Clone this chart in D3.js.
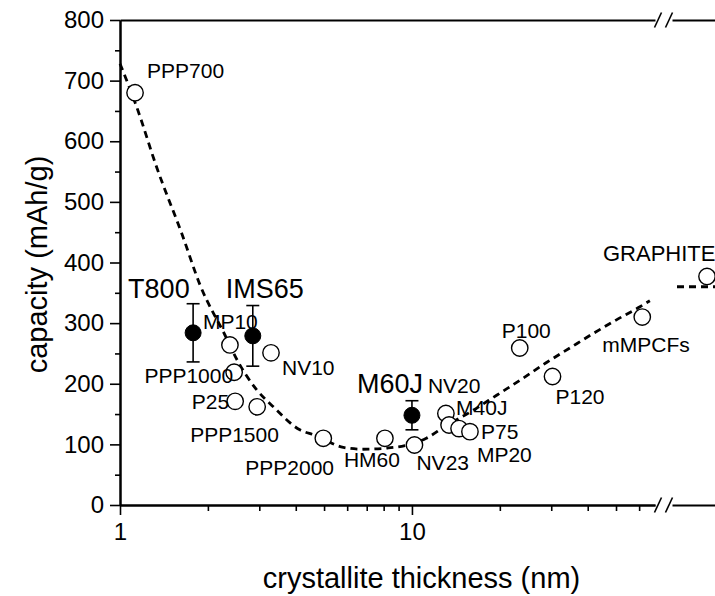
<!DOCTYPE html>
<html>
<head>
<meta charset="utf-8">
<script src="https://cdn.jsdelivr.net/npm/d3@7"></script>
<style>
  html, body { margin: 0; padding: 0; background: #fff; }
  svg { display: block; }
  text { font-family: "Liberation Sans", Arial, sans-serif; fill: #000; }
</style>
</head>
<body>
<script>
// ---------------- DATA ----------------
const sampleNames    = ["PPP700","MP10","NV10","PPP1000","P25","PPP1500","PPP2000","HM60","NV23","NV20","M40J","P75","MP20","P100","P120","mMPCFs"];
const sampleThickness = [1.126, 2.38, 3.29, 2.46, 2.48, 2.95, 4.97, 8.08, 10.2, 13.07, 13.4, 14.5, 15.8, 23.4, 30.3, 61.5];
const sampleCapacity  = [680, 264, 251, 219, 171, 162, 110, 110, 99, 151, 132, 126, 121, 259, 212, 310];

const fiberNames     = ["T800","IMS65","M60J"];
const fiberThickness = [1.78, 2.85, 10.0];
const fiberCapacity  = [284, 279, 148];
const fiberError     = [48, 50, 24];

const graphiteName     = "GRAPHITE";
const graphiteCapacity = 377;
const graphiteTrend    = 360;

const trendThickness = [1.0, 1.14, 1.34, 1.63, 1.88, 2.29, 2.54, 2.94, 3.35, 4.13, 4.66, 5.82, 6.8, 8.25, 9.46, 11.2, 13.0, 15.8, 19.5, 24, 28.9, 35, 41.8, 50, 60.4, 65.3];
const trendCapacity  = [728, 657, 555, 447, 363, 280, 236, 190, 162, 124, 115, 95, 92, 94, 98, 110, 130, 153, 181, 209, 235, 260, 283, 305, 327, 337];

const yMajorTicks = [0, 100, 200, 300, 400, 500, 600, 700, 800];
const yMinorTicks = [50, 150, 250, 350, 450, 550, 650, 750];
const xMajorTicks = [1, 10];
const xMinorTicks = [2, 3, 4, 5, 6, 7, 8, 9, 20, 30, 40, 50, 60];

const xTitle = "crystallite thickness (nm)";
const yTitle = "capacity (mAh/g)";

// ---------------- LAYOUT (label placement relative to points) ----------------
const sampleLabelLayout = {
  "PPP700": [12, -15, "start"], "MP10": [-27, -16, "start"], "NV10": [11, 22, "start"],
  "PPP1000": [-1, 11, "end"], "P25": [-6, 8, "end"], "PPP1500": [-67, 35, "start"],
  "PPP2000": [-78, 37, "start"], "HM60": [-41, 29, "start"], "NV23": [2, 25, "start"],
  "NV20": [-18, -20, "start"], "M40J": [7, -10, "start"], "P75": [22, 10, "start"],
  "MP20": [7, 30, "start"], "P100": [-18, -10, "start"], "P120": [3, 28, "start"],
  "mMPCFs": [-40, 35, "start"]
};
const fiberLabelLayout = { "T800": [-65, -35], "IMS65": [-27, -38], "M60J": [-55, -22] };

// ---------------- CHART ----------------
const W = 715, H = 596;
const svg = d3.select("body").append("svg").attr("width", W).attr("height", H);

const x  = d3.scaleLog().domain([1, 68]).range([120, 655]);
const xb = d3.scaleBand().domain([graphiteName]).range([672, 742]);
const y  = d3.scaleLinear().domain([0, 800]).range([505, 20]);

const axisStroke = 2;

function styleAxis(g) {
  g.select(".domain").attr("stroke", "#000").attr("stroke-width", axisStroke);
  g.selectAll(".tick line").attr("stroke", "#000").attr("stroke-width", 1.6);
  g.selectAll(".tick text").style("font-size", "24px").attr("fill", "#000");
}

// Left axis
svg.append("g").attr("transform", `translate(${x.range()[0]},0)`)
  .call(d3.axisLeft(y).tickValues(yMinorTicks).tickSize(5).tickSizeOuter(0).tickFormat(""))
  .call(styleAxis);
svg.append("g").attr("transform", `translate(${x.range()[0]},0)`)
  .call(d3.axisLeft(y).tickValues(yMajorTicks).tickSize(10).tickSizeOuter(0).tickPadding(6))
  .call(styleAxis);

// Bottom axis (main + after-break segment)
svg.append("g").attr("transform", `translate(0,${y(0)})`)
  .call(d3.axisBottom(x).tickValues(xMinorTicks).tickSize(6).tickSizeOuter(0).tickFormat(""))
  .call(styleAxis);
svg.append("g").attr("transform", `translate(0,${y(0)})`)
  .call(d3.axisBottom(x).tickValues(xMajorTicks).tickSize(10).tickSizeOuter(0).tickPadding(8).tickFormat(d3.format("d")))
  .call(styleAxis);
svg.append("g").attr("transform", `translate(0,${y(0)})`)
  .call(d3.axisBottom(xb).tickValues([]).tickSizeOuter(0))
  .call(styleAxis);

// Top axis
svg.append("g").attr("transform", `translate(0,${y(800)})`)
  .call(d3.axisTop(x).tickValues([]).tickSizeOuter(0))
  .call(styleAxis);
svg.append("g").attr("transform", `translate(0,${y(800)})`)
  .call(d3.axisTop(xb).tickValues([]).tickSizeOuter(0))
  .call(styleAxis);

// Break marks
const breakXs = [x.range()[1] + 3, xb.range()[0] - 3];
[y(0), y(800)].forEach(yy => {
  breakXs.forEach(bx => {
    svg.append("line")
      .attr("x1", bx - 3.5).attr("y1", yy + 7.5)
      .attr("x2", bx + 3.5).attr("y2", yy - 7.5)
      .attr("stroke", "#000").attr("stroke-width", 1.6);
  });
});

// Axis titles
svg.append("text")
  .attr("x", (x.range()[0] + 723) / 2).attr("y", 588)
  .attr("text-anchor", "middle").style("font-size", "29px")
  .text(xTitle);
svg.append("text")
  .attr("transform", `translate(47,${(y(800) + y(0)) / 2 + 2}) rotate(-90)`)
  .attr("text-anchor", "middle").style("font-size", "29px")
  .text(yTitle);

// Trend curve (dashed)
const trend = trendThickness.map((t, i) => [t, trendCapacity[i]]);
svg.append("path")
  .datum(trend)
  .attr("fill", "none").attr("stroke", "#000").attr("stroke-width", 2.8)
  .attr("stroke-dasharray", "7,5")
  .attr("d", d3.line().x(d => x(d[0])).y(d => y(d[1])).curve(d3.curveMonotoneX));

// Trend continuation after the break
svg.append("line")
  .attr("x1", xb.range()[0] + 5).attr("x2", xb.range()[1])
  .attr("y1", y(graphiteTrend)).attr("y2", y(graphiteTrend))
  .attr("stroke", "#000").attr("stroke-width", 2.8).attr("stroke-dasharray", "7,5");

// Open circles
const samples = sampleNames.map((n, i) => ({ name: n, t: sampleThickness[i], c: sampleCapacity[i] }));
svg.append("g").selectAll("circle").data(samples).join("circle")
  .attr("cx", d => x(d.t)).attr("cy", d => y(d.c)).attr("r", 8.2)
  .attr("fill", "#fff").attr("stroke", "#000").attr("stroke-width", 1.4);

// Graphite point
svg.append("circle")
  .attr("cx", xb(graphiteName) + xb.bandwidth() / 2).attr("cy", y(graphiteCapacity)).attr("r", 8.2)
  .attr("fill", "#fff").attr("stroke", "#000").attr("stroke-width", 1.4);

// Filled fibers with error bars
const fibers = fiberNames.map((n, i) => ({ name: n, t: fiberThickness[i], c: fiberCapacity[i], e: fiberError[i] }));
const fg = svg.append("g");
fibers.forEach(d => {
  const cx = x(d.t);
  fg.append("line").attr("x1", cx).attr("x2", cx)
    .attr("y1", y(d.c + d.e)).attr("y2", y(d.c - d.e))
    .attr("stroke", "#000").attr("stroke-width", 1.6);
  [d.c + d.e, d.c - d.e].forEach(v => {
    fg.append("line").attr("x1", cx - 6.5).attr("x2", cx + 6.5)
      .attr("y1", y(v)).attr("y2", y(v))
      .attr("stroke", "#000").attr("stroke-width", 1.6);
  });
  fg.append("circle").attr("cx", cx).attr("cy", y(d.c)).attr("r", 8)
    .attr("fill", "#000").attr("stroke", "#000").attr("stroke-width", 1);
});

// Labels
svg.append("g").selectAll("text").data(samples).join("text")
  .attr("x", d => x(d.t) + sampleLabelLayout[d.name][0])
  .attr("y", d => y(d.c) + sampleLabelLayout[d.name][1])
  .attr("text-anchor", d => sampleLabelLayout[d.name][2])
  .style("font-size", "21px")
  .text(d => d.name);

svg.append("text")
  .attr("x", xb(graphiteName) + xb.bandwidth() / 2 - 104)
  .attr("y", y(graphiteCapacity) - 15)
  .style("font-size", "22px")
  .text(graphiteName);

svg.append("g").selectAll("text").data(fibers).join("text")
  .attr("x", d => x(d.t) + fiberLabelLayout[d.name][0])
  .attr("y", d => y(d.c) + fiberLabelLayout[d.name][1])
  .style("font-size", "27px")
  .text(d => d.name);
</script>
</body>
</html>
